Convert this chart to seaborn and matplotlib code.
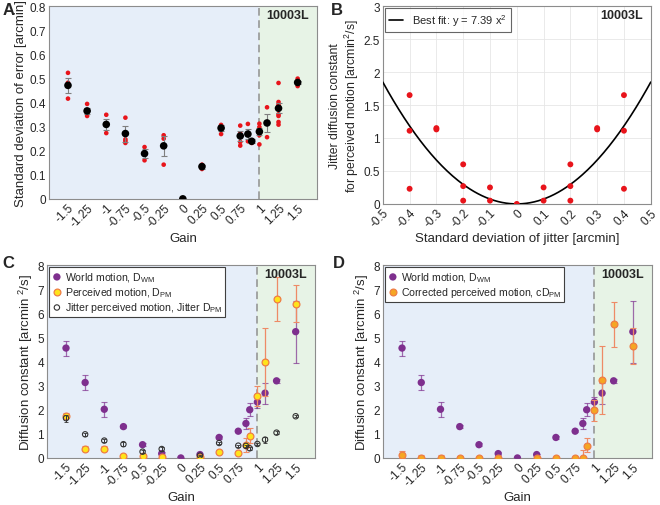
import numpy as np
import pandas as pd
import matplotlib
matplotlib.use('Agg')
import matplotlib.pyplot as plt
import seaborn as sns

sns.set_style('white')
plt.rcParams['font.family'] = ['Liberation Sans', 'DejaVu Sans']
plt.rcParams['mathtext.fontset'] = 'custom'
plt.rcParams['mathtext.rm'] = 'Liberation Sans'
plt.rcParams['mathtext.it'] = 'Liberation Sans'

# ---- data ----
gains = [-1.5, -1.25, -1, -0.75, -0.5, -0.25, 0, 0.25, 0.5, 0.75, 0.85, 0.9, 1, 1.1, 1.25, 1.5]
tick_gains = [-1.5, -1.25, -1, -0.75, -0.5, -0.25, 0, 0.25, 0.5, 0.75, 1, 1.25, 1.5]
tick_labels = ['-1.5', '-1.25', '-1', '-0.75', '-0.5', '-0.25', '0', '0.25', '0.5', '0.75', '1', '1.25', '1.5']

# panel A: std of error, mean +- sem and single sessions
err_mean = [0.471, 0.365, 0.309, 0.271, 0.188, 0.220, 0.0, 0.134, 0.294, 0.261, 0.269, 0.239, 0.279, 0.315, 0.376, 0.483]
err_sem = [0.032, 0.012, 0.022, 0.033, 0.020, 0.042, 0.0, 0.008, 0.012, 0.020, 0.020, 0.008, 0.015, 0.037, 0.020, 0.008]
session_err = {
    -1.5: [0.523, 0.482, 0.416],
    -1.25: [0.394, 0.354, 0.344],
    -1: [0.349, 0.273],
    -0.75: [0.337, 0.247, 0.240, 0.232],
    -0.5: [0.215, 0.160],
    -0.25: [0.264, 0.250, 0.142],
    0: [0.0],
    0.25: [0.142, 0.124],
    0.5: [0.307, 0.298, 0.269],
    0.75: [0.304, 0.271, 0.256, 0.236, 0.221],
    0.85: [0.311, 0.239],
    0.9: [0.240, 0.232],
    1: [0.312, 0.298, 0.288, 0.264, 0.226],
    1.1: [0.380, 0.256],
    1.25: [0.481, 0.402, 0.391, 0.351, 0.344, 0.319, 0.308],
    1.5: [0.499, 0.468],
}

# panel B: jitter diffusion constant vs jitter std
jit_sd = [-0.4, -0.4, -0.4, -0.3, -0.3, -0.2, -0.2, -0.2, -0.1, -0.1, 0,
          0.1, 0.1, 0.2, 0.2, 0.2, 0.3, 0.3, 0.4, 0.4, 0.4]
jit_d = [1.65, 1.11, 0.23, 1.15, 1.13, 0.60, 0.27, 0.05, 0.25, 0.05, 0.0,
         0.25, 0.05, 0.60, 0.27, 0.05, 1.15, 1.13, 1.65, 1.11, 0.23]
fit_k = 7.39

# panel C/D: diffusion constants
nan = np.nan
wm_mean = [4.56, 3.13, 2.02, 1.30, 0.55, 0.18, 0.0, 0.14, 0.85, 1.11, 1.43, 2.00, 2.32, 2.69, 3.20, 5.24]
wm_lo = [0.32, 0.30, 0.31, 0.05, 0.05, 0.05, 0.0, 0.04, 0.05, 0.05, 0.24, 0.25, 0.23, 0.44, 0.08, 1.29]
wm_hi = [0.31, 0.32, 0.31, 0.05, 0.05, 0.05, 0.0, 0.04, 0.05, 0.05, 0.22, 0.26, 0.20, 0.42, 0.08, 1.29]

pm_mean = [1.76, 0.39, 0.39, 0.07, 0.07, 0.04, nan, 0.03, 0.26, 0.22, 0.54, 0.92, 2.55, 3.98, 6.60, 6.38]
pm_lo = [0.10, 0.10, 0.10, 0.05, 0.05, 0.05, nan, 0.03, 0.05, 0.05, 0.28, 0.31, 0.41, 1.43, 0.93, 0.74]
pm_hi = [0.10, 0.10, 0.10, 0.05, 0.05, 0.05, nan, 0.03, 0.05, 0.05, 0.28, 0.31, 0.42, 1.42, 0.92, 0.78]

jt_mean = [1.65, 0.98, 0.72, 0.57, 0.26, 0.37, nan, 0.10, 0.62, 0.51, 0.50, 0.40, 0.58, 0.76, 1.05, 1.73]
jt_err = [0.15, 0.05, 0.06, 0.08, 0.05, 0.08, nan, 0.04, 0.05, 0.04, 0.04, 0.05, 0.05, 0.12, 0.05, 0.04]

cd_mean = [0.12, 0.0, 0.0, 0.0, 0.0, 0.0, nan, 0.0, 0.0, 0.0, 0.0, 0.51, 1.98, 3.25, 5.55, 4.66]
cd_lo = [0.12, 0.0, 0.0, 0.0, 0.0, 0.0, nan, 0.0, 0.0, 0.0, 0.0, 0.25, 0.44, 1.43, 0.93, 0.75]
cd_hi = [0.18, 0.12, 0.12, 0.10, 0.05, 0.05, nan, 0.05, 0.05, 0.05, 0.35, 0.31, 0.41, 1.41, 0.94, 0.75]

# colours
BLUE_BG = '#E6EEF9'
GREEN_BG = '#E7F3E6'
PURPLE = '#7E2F8E'
YELLOW = '#FFE31A'
ORANGE_FACE = '#F5A623'
ORANGE_EDGE = '#EE7D45'
ORANGE_BAR = '#EE8A66'
RED = '#E8141B'
SPINE = '#8C8C8C'
FS = 8.5


def style_axes(ax):
    for s in ax.spines.values():
        s.set_color(SPINE)
        s.set_linewidth(0.8)
    ax.tick_params(direction='in', length=3, color=SPINE, labelsize=FS, pad=2)


def gain_axes(ax, ymax, ylabel):
    ax.axvspan(-1.75, 1, color=BLUE_BG, zorder=0, lw=0)
    ax.axvspan(1, 1.75, color=GREEN_BG, zorder=0, lw=0)
    ax.axvline(1, color='#8F8F8F', lw=1.1, ls=(0, (5, 3)), zorder=1)
    ax.set_xlim(-1.75, 1.75)
    ax.set_ylim(0, ymax)
    ax.set_xticks(tick_gains)
    ax.set_xticklabels(tick_labels, rotation=45, ha='right', rotation_mode='anchor')
    ax.set_xlabel('Gain', fontsize=FS + 1, labelpad=2)
    ax.set_ylabel(ylabel, fontsize=FS + 1, labelpad=2)
    ax.text(0.97, 0.985, '10003L', transform=ax.transAxes, ha='right', va='top',
            fontsize=FS + 0.5, fontweight='bold', zorder=10)
    style_axes(ax)


def box_legend(ax, fs):
    leg = ax.legend(loc='upper left', fontsize=fs, frameon=True, fancybox=False,
                    handletextpad=0.3, borderpad=0.25, borderaxespad=0.2,
                    labelspacing=0.15, handlelength=1.0, framealpha=1)
    leg.get_frame().set_edgecolor('#404040')
    leg.get_frame().set_linewidth(0.8)
    return leg


fig = plt.figure(figsize=(6.6, 5.06), dpi=100)
axA = fig.add_axes([0.074, 0.605, 0.406, 0.381])
axB = fig.add_axes([0.580, 0.595, 0.406, 0.391])
axC = fig.add_axes([0.071, 0.093, 0.406, 0.381])
axD = fig.add_axes([0.580, 0.093, 0.408, 0.381])

# ---- A ----
gain_axes(axA, 0.8, 'Standard deviation of error [arcmin]')
sess = pd.DataFrame([(g, v) for g, vals in session_err.items() for v in vals],
                    columns=['gain', 'err'])
sns.scatterplot(data=sess, x='gain', y='err', ax=axA, color=RED, s=11,
                edgecolor='none', zorder=3)
axA.errorbar(gains, err_mean, yerr=err_sem, fmt='none', ecolor='#7F7F7F',
             elinewidth=0.8, capsize=2, capthick=0.8, zorder=4)
sns.scatterplot(x=gains, y=err_mean, ax=axA, color='black', s=30,
                edgecolor='none', zorder=5)
axA.set_yticks(np.arange(0, 0.81, 0.1))
axA.set_yticklabels(['0', '0.1', '0.2', '0.3', '0.4', '0.5', '0.6', '0.7', '0.8'])
axA.set_xlabel('Gain', fontsize=FS + 1, labelpad=2)

# ---- B ----
xs = np.linspace(-0.5, 0.5, 201)
sns.lineplot(x=xs, y=fit_k * xs ** 2, ax=axB, color='black', lw=1.2,
             label=r'Best fit: y = 7.39 x$^2$', zorder=3)
sns.scatterplot(x=jit_sd, y=jit_d, ax=axB, color=RED, s=18, edgecolor='none',
                zorder=4)
axB.set_xlim(-0.5, 0.5)
axB.set_ylim(0, 3)
axB.set_xticks(np.round(np.arange(-0.5, 0.51, 0.1), 1))
axB.set_xticklabels(['-0.5', '-0.4', '-0.3', '-0.2', '-0.1', '0', '0.1', '0.2', '0.3', '0.4', '0.5'],
                    rotation=45, ha='right', rotation_mode='anchor')
axB.set_yticks(np.arange(0, 3.01, 0.5))
axB.set_yticklabels(['0', '0.5', '1', '1.5', '2', '2.5', '3'])
axB.grid(True, color='#E6E6E6', lw=0.6)
axB.set_axisbelow(True)
axB.set_xlabel('Standard deviation of jitter [arcmin]', fontsize=FS + 1, labelpad=2)
axB.set_ylabel('Jitter diffusion constant\nfor perceived motion [arcmin$^2$/s]',
               fontsize=FS + 0.3, labelpad=2, linespacing=1.1)
axB.text(0.97, 0.985, '10003L', transform=axB.transAxes, ha='right', va='top',
         fontsize=FS + 0.5, fontweight='bold')
leg = axB.legend(loc='upper left', fontsize=FS - 0.5, frameon=True, fancybox=False,
                 handlelength=1.3, borderpad=0.35, borderaxespad=0.2)
leg.get_frame().set_edgecolor('#404040')
leg.get_frame().set_linewidth(0.8)
style_axes(axB)

# ---- C ----
ylab = 'Diffusion constant [arcmin $^2$/s]'
gain_axes(axC, 8, ylab)
axC.errorbar(gains, wm_mean, yerr=[wm_lo, wm_hi], fmt='none', ecolor=PURPLE,
             elinewidth=0.9, capsize=2, capthick=0.8, zorder=3, alpha=0.7)
sns.scatterplot(x=gains, y=wm_mean, ax=axC, color=PURPLE, s=28, edgecolor='none',
                zorder=4, label=r'World motion, D$_{\mathrm{WM}}$')
axC.errorbar(gains, pm_mean, yerr=[pm_lo, pm_hi], fmt='none', ecolor=ORANGE_BAR,
             elinewidth=0.9, capsize=2, capthick=0.8, zorder=5)
sns.scatterplot(x=gains, y=pm_mean, ax=axC, color=YELLOW, s=24,
                edgecolor=ORANGE_EDGE, linewidth=0.9, zorder=6,
                label=r'Perceived motion, D$_{\mathrm{PM}}$')
axC.errorbar(gains, jt_mean, yerr=jt_err, fmt='none', ecolor='#333333',
             elinewidth=0.7, capsize=1.5, capthick=0.6, zorder=7)
sns.scatterplot(x=gains, y=jt_mean, ax=axC, facecolor='none', s=15,
                edgecolor='#333333', linewidth=0.8, zorder=8,
                label=r'Jitter perceived motion, Jitter D$_{\mathrm{PM}}$')
axC.set_yticks(range(0, 9))
box_legend(axC, 7.6)

# ---- D ----
gain_axes(axD, 8, ylab)
axD.errorbar(gains, wm_mean, yerr=[wm_lo, wm_hi], fmt='none', ecolor=PURPLE,
             elinewidth=0.9, capsize=2, capthick=0.8, zorder=3, alpha=0.7)
sns.scatterplot(x=gains, y=wm_mean, ax=axD, color=PURPLE, s=28, edgecolor='none',
                zorder=4, label=r'World motion, D$_{\mathrm{WM}}$')
axD.errorbar(gains, cd_mean, yerr=[cd_lo, cd_hi], fmt='none', ecolor=ORANGE_BAR,
             elinewidth=0.9, capsize=2, capthick=0.8, zorder=5)
sns.scatterplot(x=gains, y=cd_mean, ax=axD, color=ORANGE_FACE, s=24,
                edgecolor=ORANGE_EDGE, linewidth=0.9, zorder=6,
                label=r'Corrected perceived motion, cD$_{\mathrm{PM}}$')
axD.set_yticks(range(0, 9))
box_legend(axD, 7.6)

# panel letters
for lab, x, y in [('A', 0.004, 0.995), ('B', 0.502, 0.995), ('C', 0.004, 0.495), ('D', 0.505, 0.495)]:
    fig.text(x, y, lab, fontsize=12, fontweight='bold', ha='left', va='top')

fig.savefig('out.png', dpi=100)
